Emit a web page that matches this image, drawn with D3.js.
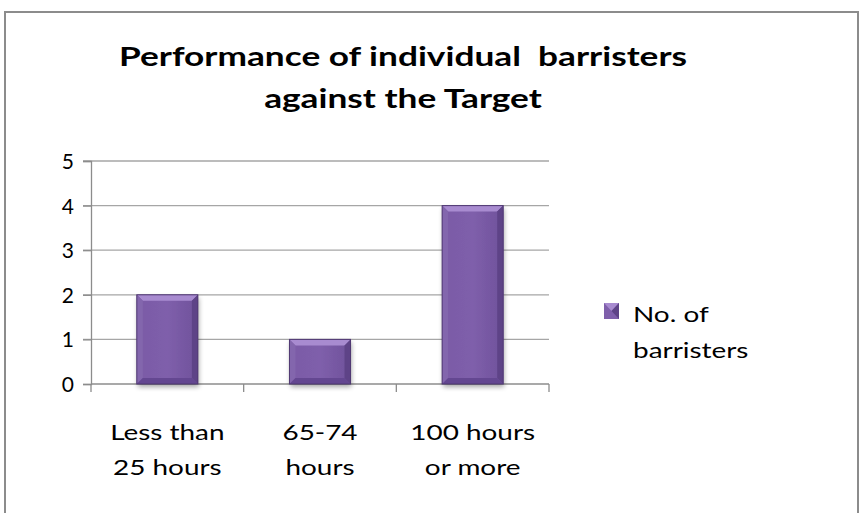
<!DOCTYPE html>
<html>
<head>
<meta charset="utf-8">
<script src="https://cdn.jsdelivr.net/npm/d3@7"></script>
<style>
  body { margin: 0; background: #fff; }
  svg { font-family: Lato, "Open Sans", sans-serif; }
</style>
</head>
<body>
<div id="chart"></div>
<script>
// Data
const categories = [["Less than", "25 hours"], ["65-74", "hours"], ["100 hours", "or more"]];
const values = [2, 1, 4];
const yTicks = [0, 1, 2, 3, 4, 5];
const titleLines = ["Performance of individual  barristers", "against the Target"];
const legendLines = ["No. of", "barristers"];

const W = 861, H = 513;
const plot = { left: 91, right: 549, top: 161, bottom: 384 };
const sx = 1.33; // the original text is drawn wide

const svg = d3.select("#chart").append("svg")
  .attr("width", W)
  .attr("height", H);

// bevel look
const defs = svg.append("defs");
const g1 = defs.append("linearGradient").attr("id", "barFill").attr("x1", 0).attr("x2", 1).attr("y1", 0).attr("y2", 0);
g1.append("stop").attr("offset", "0%").attr("stop-color", "#7a5aa6");
g1.append("stop").attr("offset", "50%").attr("stop-color", "#7f5fab");
g1.append("stop").attr("offset", "100%").attr("stop-color", "#6f529b");
const sh = defs.append("filter").attr("id", "shadow").attr("x", "-20%").attr("y", "-10%").attr("width", "140%").attr("height", "130%");
sh.append("feGaussianBlur").attr("in", "SourceAlpha").attr("stdDeviation", 2.5);
sh.append("feOffset").attr("dx", 1).attr("dy", 3).attr("result", "b");
sh.append("feComponentTransfer").append("feFuncA").attr("type", "linear").attr("slope", 0.35);
const mg = sh.append("feMerge");
mg.append("feMergeNode");
mg.append("feMergeNode").attr("in", "SourceGraphic");

// frame
svg.append("path")
  .attr("d", `M5,${H} V12 H858 V${H}`)
  .attr("fill", "none")
  .attr("stroke", "#8c8c8c")
  .attr("stroke-width", 2);

// title
svg.append("text")
  .attr("text-anchor", "middle")
  .attr("transform", `translate(403,0) scale(${sx},1)`)
  .style("font-weight", "bold")
  .style("font-size", "26.5px")
  .style("white-space", "pre")
  .attr("fill", "#000")
  .selectAll("tspan")
  .data(titleLines)
  .join("tspan")
    .attr("x", 0)
    .attr("y", (d, i) => 66 + i * 42)
    .text(d => d);

const x = d3.scaleBand().domain(d3.range(categories.length)).range([plot.left, plot.right]).padding(0);
const y = d3.scaleLinear().domain([0, 5]).range([plot.bottom, plot.top]);

// gridlines
svg.append("g")
  .selectAll("line")
  .data(yTicks.slice(1))
  .join("line")
    .attr("x1", plot.left - 8)
    .attr("x2", plot.right)
    .attr("y1", d => y(d))
    .attr("y2", d => y(d))
    .attr("stroke", "#a6a6a6")
    .attr("stroke-width", 1.3);

// y axis
const yAxis = svg.append("g")
  .attr("transform", `translate(${plot.left},0)`)
  .call(d3.axisLeft(y).tickValues(yTicks).tickFormat(d3.format("d")).tickSize(8).tickPadding(9));
yAxis.select(".domain").attr("stroke", "#8c8c8c").attr("stroke-width", 1.3);
yAxis.selectAll(".tick line").attr("stroke", "#8c8c8c").attr("stroke-width", 1.3);
yAxis.selectAll(".tick text")
  .attr("dy", "0.36em")
  .style("font-size", "21px")
  .style("font-family", "Lato, 'Open Sans', sans-serif")
  .attr("fill", "#000");

// x axis
const xAxis = svg.append("g")
  .attr("transform", `translate(0,${plot.bottom})`);
xAxis.append("line")
  .attr("x1", plot.left).attr("x2", plot.right)
  .attr("stroke", "#8c8c8c").attr("stroke-width", 1.3);
xAxis.selectAll("line.tk")
  .data(d3.range(categories.length + 1))
  .join("line")
    .attr("class", "tk")
    .attr("x1", i => plot.left + i * x.step())
    .attr("x2", i => plot.left + i * x.step())
    .attr("y1", 0).attr("y2", 8)
    .attr("stroke", "#8c8c8c").attr("stroke-width", 1.3);
xAxis.selectAll("text")
  .data(categories)
  .join("text")
    .attr("text-anchor", "middle")
    .attr("transform", (d, i) => `translate(${x(i) + x.bandwidth() / 2},0) scale(${sx},1)`)
    .style("font-size", "21px")
    .attr("fill", "#000")
    .each(function(d) {
      d3.select(this).selectAll("tspan")
        .data(d)
        .join("tspan")
          .attr("x", 0)
          .attr("y", (t, j) => 56 + j * 35)
          .text(t => t);
    });

// bars with bevel
const barW = x.bandwidth() * 0.4;
const bev = 6;
const bars = svg.append("g").selectAll("g")
  .data(values)
  .join("g")
    .attr("transform", (d, i) => `translate(${x(i) + (x.bandwidth() - barW) / 2},${y(d)})`);

bars.append("rect")
  .attr("width", barW)
  .attr("height", d => y(0) - y(d))
  .attr("fill", "url(#barFill)")
  .attr("filter", "url(#shadow)");
// top bevel
bars.append("path")
  .attr("d", `M0,0 H${barW} L${barW - bev},${bev} H${bev} Z`)
  .attr("fill", "#a88bd0");
// left bevel
bars.append("path")
  .attr("d", d => `M0,0 L${bev},${bev} V${y(0) - y(d) - bev} L0,${y(0) - y(d)} Z`)
  .attr("fill", "#8366ad");
// right bevel
bars.append("path")
  .attr("d", d => `M${barW},0 L${barW - bev},${bev} V${y(0) - y(d) - bev} L${barW},${y(0) - y(d)} Z`)
  .attr("fill", "#5e4387");
// bottom bevel
bars.append("path")
  .attr("d", d => `M0,${y(0) - y(d)} L${bev},${y(0) - y(d) - bev} H${barW - bev} L${barW},${y(0) - y(d)} Z`)
  .attr("fill", "#644791");
bars.append("rect")
  .attr("width", barW)
  .attr("height", d => y(0) - y(d))
  .attr("fill", "none")
  .attr("stroke", "#4f3872")
  .attr("stroke-width", 1);

// legend
const lg = svg.append("g").attr("transform", "translate(604,303)");
lg.append("rect").attr("width", 15).attr("height", 16).attr("fill", "#7f5fab");
lg.append("path").attr("d", "M0,0 H15 L7.5,8 Z").attr("fill", "#a88bd0");
lg.append("path").attr("d", "M15,0 V16 L7.5,8 Z").attr("fill", "#5e4387");
lg.append("text")
  .attr("transform", `translate(29,0) scale(${sx},1)`)
  .style("font-size", "21px")
  .attr("fill", "#000")
  .selectAll("tspan")
  .data(legendLines)
  .join("tspan")
    .attr("x", 0)
    .attr("y", (d, i) => 19 + i * 36)
    .text(d => d);
</script>
</body>
</html>
